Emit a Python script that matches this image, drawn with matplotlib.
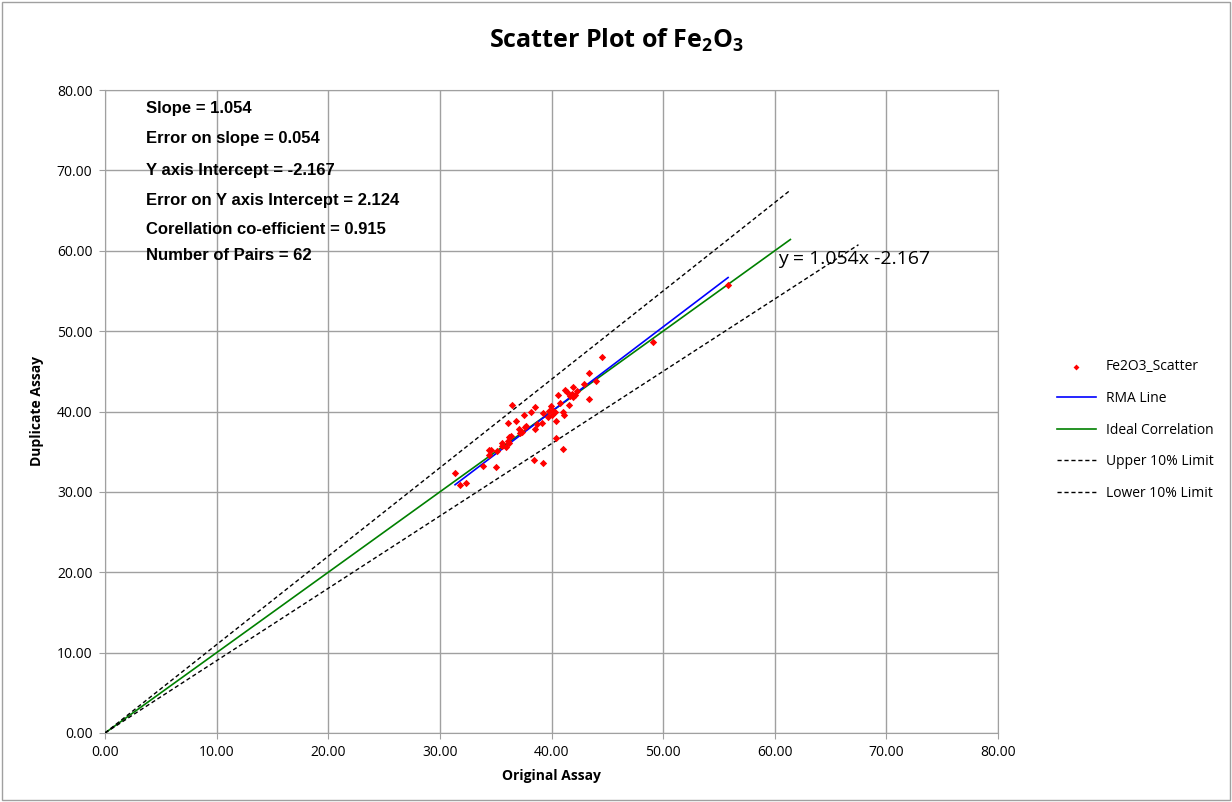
import matplotlib
matplotlib.use("Agg")
import matplotlib.pyplot as plt
from matplotlib.patches import Rectangle

# ---- data ----
original = [31.36, 31.81, 32.35, 33.87, 35.04, 34.41, 34.59, 34.41, 35.13, 35.57,
            35.57, 35.93, 36.11, 36.20, 36.20, 36.38, 36.11, 36.83, 36.47, 37.10,
            37.19, 37.37, 37.63, 37.72, 37.54, 38.17, 38.53, 38.53, 38.71, 38.44,
            39.25, 39.25, 39.16, 39.96, 39.78, 40.14, 40.32, 39.70, 40.05, 40.41,
            40.41, 41.04, 40.59, 40.77, 41.04, 41.13, 41.58, 41.22, 41.40, 41.85,
            41.67, 41.94, 42.11, 41.94, 42.29, 43.37, 42.92, 43.37, 44.00, 44.53,
            49.10, 55.82]
duplicate = [32.35, 30.86, 31.10, 33.22, 33.09, 35.21, 35.21, 34.59, 35.09, 36.08,
             35.71, 35.58, 36.33, 36.08, 36.83, 36.95, 38.57, 38.82, 40.81, 37.82,
             37.32, 37.45, 38.07, 38.20, 39.56, 39.94, 40.56, 37.82, 38.44, 33.97,
             33.59, 39.81, 38.57, 40.68, 40.06, 40.06, 39.94, 39.32, 39.56, 38.82,
             36.70, 35.33, 42.05, 41.06, 39.94, 39.56, 40.81, 42.67, 42.43, 42.18,
             41.93, 41.80, 42.05, 43.05, 42.55, 41.56, 43.42, 44.79, 43.79, 46.78,
             48.65, 55.74]

slope = 1.054
intercept = -2.167
slope_err = 0.054
intercept_err = 2.124
corr = 0.915
n_pairs = 62

rma_x = [31.36, 55.82]
ideal_x = [0.0, 61.4]
upper_x = [0.0, 61.3]
lower_x = [0.0, 67.5]
upper_factor = 1.1
lower_factor = 0.9

ticks = [0, 10, 20, 30, 40, 50, 60, 70, 80]

# ---- figure ----
fig = plt.figure(figsize=(12.32, 8.02), dpi=100)
ax = fig.add_axes([105/1232, 1-733/802, (998-105)/1232, (733-90)/802])

fig.patches.append(Rectangle((0.002, 0.002), 0.996, 0.996, transform=fig.transFigure,
                             fill=False, edgecolor='#a0a0a0', linewidth=1.0))

ax.scatter(original, duplicate, marker='D', s=14, color='red', linewidths=0,
           label='Fe2O3_Scatter', zorder=5)
ax.plot(rma_x, [slope*v + intercept for v in rma_x], color='blue', lw=1.2,
        label='RMA Line', zorder=4)
ax.plot(ideal_x, ideal_x, color='green', lw=1.2, label='Ideal Correlation', zorder=3)
ax.plot(upper_x, [v*upper_factor for v in upper_x], color='black', lw=1.0,
        ls=(0, (3, 2)), label='Upper 10% Limit', zorder=3)
ax.plot(lower_x, [v*lower_factor for v in lower_x], color='black', lw=1.0,
        ls=(0, (3, 2)), label='Lower 10% Limit', zorder=3)

ax.set_xlim(0, 80)
ax.set_ylim(0, 80)
ax.set_xticks(ticks)
ax.set_yticks(ticks)
ax.set_xticklabels([f"{t:.2f}" for t in ticks], fontsize=10, family='Open Sans')
ax.set_yticklabels([f"{t:.2f}" for t in ticks], fontsize=10, family='Open Sans')
ax.grid(True, color='#a0a0a0', lw=1.0)
ax.set_axisbelow(True)
for s in ax.spines.values():
    s.set_color('#a0a0a0')
ax.tick_params(length=4, color='#a0a0a0', pad=5)

ax.set_xlabel('Original Assay', fontsize=10, fontweight='bold', family='Open Sans', labelpad=6)
ax.set_ylabel('Duplicate Assay', fontsize=10, fontweight='bold', family='Open Sans', labelpad=9)

fig.text(0.5, 1-40/802, 'Scatter Plot of Fe$_\\mathregular{2}$O$_\\mathregular{3}$',
         ha='center', va='center', fontsize=18, fontweight='bold', family='Open Sans')

stats = [f"Slope = {slope:.3f}",
         f"Error on slope = {slope_err:.3f}",
         f"Y axis Intercept = {intercept:.3f}",
         f"Error on Y axis Intercept = {intercept_err:.3f}",
         f"Corellation co-efficient = {corr:.3f}",
         f"Number of Pairs = {n_pairs}"]
ys = [109, 139, 170, 200, 229, 256]
for t, yp in zip(stats, ys):
    fig.text(146/1232, 1-yp/802, t, ha='left', va='center', fontsize=12,
             fontweight='bold', family='Liberation Sans')

ax.text(60.25, 59.0, f"y = {slope:.3f}x {intercept:.3f}", fontsize=14,
        family='Open Sans', ha='left', va='center')

leg = ax.legend(loc='center left', bbox_to_anchor=(1.052, 0.471), frameon=False,
                prop={'family': 'Open Sans', 'size': 10}, handlelength=2.8,
                handletextpad=0.7, labelspacing=1.2, markerscale=0.8)

fig.savefig('out.png', dpi=100)
